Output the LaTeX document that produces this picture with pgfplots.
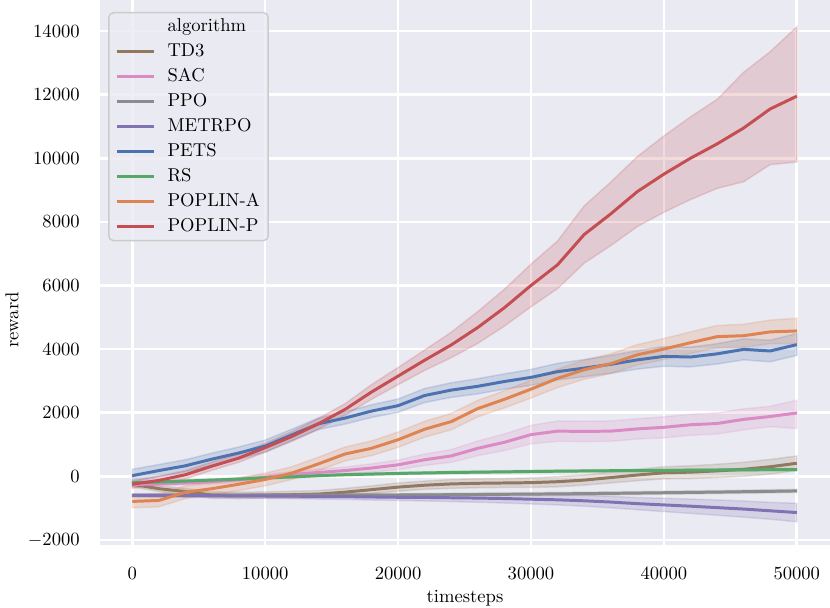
\documentclass[border=0pt]{standalone}
\usepackage{pgfplots}
\pgfplotsset{compat=1.18}
\usepackage{pgfplotstable}
\usepgfplotslibrary{fillbetween}
\definecolor{bg}{HTML}{EAEAF2}
\definecolor{ctdthree}{HTML}{937860}
\definecolor{csac}{HTML}{DA8BC3}
\definecolor{cppo}{HTML}{8C8C8C}
\definecolor{cmetrpo}{HTML}{8172B3}
\definecolor{cpets}{HTML}{4C72B0}
\definecolor{crs}{HTML}{55A868}
\definecolor{cpa}{HTML}{DD8452}
\definecolor{cpp}{HTML}{C44E52}

\pgfplotstableread{
t m lo hi
0 -250 -330 -170
2000 -390 -480 -300
4000 -480 -580 -380
6000 -590 -690 -490
8000 -600 -700 -500
10000 -590 -690 -490
12000 -580 -690 -470
14000 -560 -670 -450
16000 -500 -620 -380
18000 -420 -540 -300
20000 -340 -470 -210
22000 -280 -410 -150
24000 -240 -380 -100
26000 -220 -360 -80
28000 -210 -350 -70
30000 -200 -350 -50
32000 -170 -330 -10
34000 -120 -280 40
36000 -40 -210 130
38000 40 -140 220
40000 110 -80 300
42000 130 -70 330
44000 170 -40 380
46000 220 0 440
48000 300 70 530
50000 410 180 640
}\tdthree

\pgfplotstableread{
t m lo hi
0 -260 -320 -200
2000 -240 -300 -180
4000 -210 -270 -150
6000 -170 -240 -100
8000 -110 -180 -40
10000 -30 -110 50
12000 60 -30 150
14000 120 20 220
16000 180 70 290
18000 260 130 390
20000 360 210 510
22000 520 340 700
24000 640 440 840
26000 880 650 1110
28000 1070 810 1330
30000 1310 1020 1600
32000 1420 1100 1740
34000 1410 1090 1730
36000 1420 1100 1740
38000 1490 1170 1810
40000 1540 1210 1870
42000 1620 1290 1950
44000 1660 1330 1990
46000 1790 1460 2120
48000 1880 1560 2200
50000 1990 1500 2390
}\sac

\pgfplotstableread{
t m lo hi
0 -600 -645 -555
2000 -600 -645 -555
4000 -600 -645 -555
6000 -600 -645 -555
8000 -600 -645 -555
10000 -598 -643 -553
12000 -596 -641 -551
14000 -594 -639 -549
16000 -592 -637 -547
18000 -590 -635 -545
20000 -588 -633 -543
22000 -584 -629 -539
24000 -578 -623 -533
26000 -572 -617 -527
28000 -566 -611 -521
30000 -560 -605 -515
32000 -553 -600 -506
34000 -545 -592 -498
36000 -537 -584 -490
38000 -527 -575 -479
40000 -517 -565 -469
42000 -507 -555 -459
44000 -497 -545 -449
46000 -485 -535 -435
48000 -473 -523 -423
50000 -460 -510 -410
}\ppo

\pgfplotstableread{
t m lo hi
0 -600 -650 -550
2000 -600 -652 -548
4000 -605 -660 -550
6000 -610 -668 -552
8000 -615 -680 -550
10000 -620 -690 -550
12000 -625 -700 -550
14000 -635 -715 -555
16000 -640 -725 -555
18000 -650 -745 -555
20000 -660 -760 -560
22000 -665 -775 -555
24000 -675 -795 -555
26000 -685 -815 -555
28000 -700 -840 -560
30000 -720 -870 -570
32000 -740 -900 -580
34000 -770 -940 -600
36000 -810 -990 -630
38000 -860 -1050 -670
40000 -900 -1110 -690
42000 -940 -1165 -715
44000 -985 -1225 -745
46000 -1030 -1285 -775
48000 -1085 -1350 -820
50000 -1140 -1430 -850
}\metrpo

\pgfplotstableread{
t m lo hi
0 20 -180 220
2000 180 -10 370
4000 330 140 520
6000 540 350 730
8000 730 540 920
10000 950 760 1140
12000 1300 1120 1480
14000 1650 1470 1830
16000 1830 1640 2020
18000 2050 1850 2250
20000 2220 2010 2430
22000 2540 2320 2760
24000 2710 2480 2940
26000 2830 2590 3070
28000 2980 2740 3220
30000 3110 2860 3360
32000 3290 3030 3550
34000 3400 3130 3670
36000 3520 3240 3800
38000 3660 3370 3950
40000 3770 3460 4080
42000 3750 3440 4060
44000 3850 3530 4170
46000 3990 3660 4320
48000 3940 3600 4280
50000 4140 3800 4490
}\pets

\pgfplotstableread{
t m lo hi
0 -200 -235 -165
2000 -180 -215 -145
4000 -150 -185 -115
6000 -120 -155 -85
8000 -90 -125 -55
10000 -50 -85 -15
12000 -20 -55 15
14000 20 -15 55
16000 50 15 85
18000 70 35 105
20000 90 55 125
22000 105 70 140
24000 120 85 155
26000 130 95 165
28000 140 105 175
30000 150 115 185
32000 160 125 195
34000 168 133 203
36000 175 140 210
38000 180 145 215
40000 185 150 220
42000 192 157 227
44000 198 163 233
46000 203 168 238
48000 207 172 242
50000 210 175 245
}\rs

\pgfplotstableread{
t m lo hi
0 -790 -990 -590
2000 -760 -960 -560
4000 -500 -700 -300
6000 -390 -590 -190
8000 -250 -450 -50
10000 -100 -300 100
12000 100 -100 300
14000 390 180 600
16000 700 480 920
18000 880 650 1110
20000 1150 910 1390
22000 1480 1230 1730
24000 1720 1460 1980
26000 2130 1870 2390
28000 2420 2150 2690
30000 2740 2460 3020
32000 3080 2790 3370
34000 3350 3050 3650
36000 3540 3230 3850
38000 3820 3500 4140
40000 4000 3670 4330
42000 4200 3860 4540
44000 4390 4040 4740
46000 4420 4060 4780
48000 4540 4170 4910
50000 4570 4170 4970
}\poplina

\pgfplotstableread{
t m lo hi
0 -250 -380 -120
2000 -130 -260 0
4000 50 -80 180
6000 320 190 450
8000 570 440 700
10000 900 760 1040
12000 1250 1100 1400
14000 1650 1480 1820
16000 2100 1920 2280
18000 2650 2420 2880
20000 3150 2880 3420
22000 3650 3330 3970
24000 4130 3730 4530
26000 4680 4180 5180
28000 5300 4720 5880
30000 6000 5330 6670
32000 6650 5900 7400
34000 7600 6700 8500
36000 8250 7250 9250
38000 8950 7850 10050
40000 9500 8300 10700
42000 10000 8700 11300
44000 10450 9050 11850
46000 10950 9260 12700
48000 11550 9800 13350
50000 11950 9880 14130
}\poplinp

\newcommand{\series}[4]{%
  \addplot[draw=none, forget plot, name path=hi#3] table[x=t,y=hi]{#1};
  \addplot[draw=none, forget plot, name path=lo#3] table[x=t,y=lo]{#1};
  \addplot[fill=#2, fill opacity=0.2, draw=#2, draw opacity=0.2, line width=0.8pt, forget plot] fill between[of=hi#3 and lo#3];
  \addplot[#2, line width=1.6pt, line join=round] table[x=t,y=m]{#1};
  \addlegendentry{#4}
}

\begin{document}
\begin{tikzpicture}
\begin{axis}[
  width=392.47pt, height=293pt, scale only axis,
  xmin=-2430, xmax=52500, ymin=-2160, ymax=14975,
  axis background/.style={fill=bg},
  axis line style={draw=none},
  grid=major, grid style={white, line width=1.4pt},
  major tick length=0pt,
  xtick={0,10000,20000,30000,40000,50000},
  ytick={-2000,0,2000,4000,6000,8000,10000,12000,14000},
  scaled ticks=false,
  /pgf/number format/1000 sep={},
  yticklabel style={xshift=-7.4pt},
  xticklabel style={yshift=-8.5pt},
  xlabel={timesteps}, ylabel={reward},
  xlabel style={at={(axis description cs:0.5,-0.098)}, anchor=center},
  ylabel style={at={(axis description cs:-0.1205,0.413)}, anchor=center},
  legend cell align=left,
  legend image code/.code={\draw[#1, line width=1.6pt] (0pt,0pt) -- (20pt,0pt);},
  legend style={at={(axis description cs:0.011,0.978)}, anchor=north west,
    draw=black!20, line width=0.8pt, fill=bg, fill opacity=0.8, draw opacity=1, text opacity=1,
    rounded corners=2.5pt, inner xsep=3.5pt, inner ysep=2pt,
    row sep=2.44pt, column sep=5.5pt,
    nodes={inner sep=1pt, text height=7pt, text depth=2pt}},
]
\addlegendimage{empty legend}
\addlegendentry{algorithm}
\series{\tdthree}{ctdthree}{a}{TD3}
\series{\sac}{csac}{b}{SAC}
\series{\ppo}{cppo}{c}{PPO}
\series{\metrpo}{cmetrpo}{d}{METRPO}
\series{\pets}{cpets}{e}{PETS}
\series{\rs}{crs}{f}{RS}
\series{\poplina}{cpa}{g}{POPLIN-A}
\series{\poplinp}{cpp}{h}{POPLIN-P}
\end{axis}
\pgfresetboundingbox
\path[use as bounding box] (-53.76pt,-33.87pt) rectangle (392.47pt,293pt);
\end{tikzpicture}
\end{document}
